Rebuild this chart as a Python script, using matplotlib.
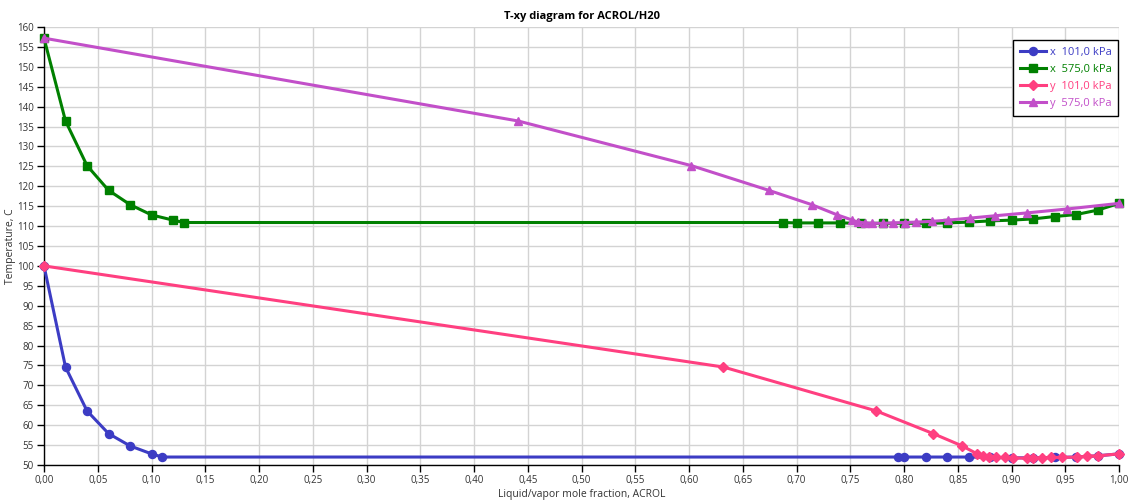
import matplotlib
matplotlib.use("Agg")
import matplotlib.pyplot as plt
from matplotlib.ticker import MultipleLocator, FuncFormatter

# liquid x, 101 kPa
x101 = [0.0, 0.02, 0.04, 0.06, 0.08, 0.10, 0.110, 0.794, 0.80, 0.82, 0.84, 0.86,
        0.88, 0.90, 0.92, 0.94, 0.96, 0.98, 1.0]
tx101 = [100.0, 74.6, 63.6, 57.9, 54.8, 52.8, 52.0, 52.0, 52.0, 52.0, 52.0, 52.0,
         51.9, 51.8, 51.8, 51.9, 52.0, 52.3, 52.8]

# liquid x, 575 kPa
x575 = [0.0, 0.02, 0.04, 0.06, 0.08, 0.10, 0.12, 0.13, 0.687, 0.70, 0.72, 0.74,
        0.76, 0.78, 0.80, 0.82, 0.84, 0.86, 0.88, 0.90, 0.92, 0.94, 0.96, 0.98, 1.0]
tx575 = [157.2, 136.4, 125.2, 119.0, 115.4, 112.8, 111.5, 110.9, 110.9, 110.8, 110.8, 110.8,
         110.7, 110.7, 110.7, 110.7, 110.8, 111.0, 111.3, 111.5, 111.8, 112.4, 112.9, 114.0, 115.7]

# vapor y, 101 kPa
y101 = [0.0, 0.632, 0.774, 0.827, 0.854, 0.868, 0.873, 0.879, 0.886, 0.894, 0.901,
        0.914, 0.920, 0.928, 0.937, 0.947, 0.961, 0.970, 0.980, 1.0]
ty101 = [100.0, 74.6, 63.6, 57.9, 54.8, 52.8, 52.2, 52.0, 51.9, 51.9, 51.8,
         51.7, 51.8, 51.8, 51.9, 51.9, 52.0, 52.2, 52.3, 52.8]

# vapor y, 575 kPa
y575 = [0.0, 0.441, 0.602, 0.674, 0.714, 0.738, 0.752, 0.757, 0.764, 0.770, 0.780,
        0.790, 0.801, 0.811, 0.826, 0.841, 0.861, 0.885, 0.914, 0.952, 1.0]
ty575 = [157.2, 136.4, 125.2, 119.0, 115.4, 112.8, 111.5, 111.0, 110.8, 110.7, 110.7,
         110.8, 110.9, 111.0, 111.2, 111.5, 112.0, 112.6, 113.3, 114.3, 115.7]

labels = ["x  101,0 kPa", "x  575,0 kPa", "y  101,0 kPa", "y  575,0 kPa"]
colors = ["#3c3cc4", "#008000", "#ff3f80", "#c24fc9"]
markers = ["o", "s", "D", "^"]

plt.rcParams['font.family'] = ['Open Sans', 'DejaVu Sans']
plt.rcParams['font.size'] = 7.5

fig = plt.figure(figsize=(11.37, 5.0), dpi=100)
ax = fig.add_axes([0.0387, 0.07, 0.9455, 0.876])

series = [(x101, tx101), (x575, tx575), (y101, ty101), (y575, ty575)]
for (xs, ts), lab, c, m in zip(series, labels, colors, markers):
    ms = 5.8 if m != "D" else 5.5
    ax.plot(xs, ts, color=c, marker=m, markersize=ms, linewidth=2.2,
            label=lab, clip_on=False, zorder=3)

ax.set_xlim(0, 1)
ax.set_ylim(50, 160)
ax.xaxis.set_major_locator(MultipleLocator(0.05))
ax.yaxis.set_major_locator(MultipleLocator(5))
ax.xaxis.set_major_formatter(FuncFormatter(lambda v, p: ("%.2f" % v).replace(".", ",")))
ax.yaxis.set_major_formatter(FuncFormatter(lambda v, p: "%d" % v))
ax.grid(True, color="#d3d3d3", linewidth=1.0)
ax.set_axisbelow(True)
for s in ["top", "right"]:
    ax.spines[s].set_visible(False)
for s in ["left", "bottom"]:
    ax.spines[s].set_color("black")
    ax.spines[s].set_linewidth(1.0)
ax.tick_params(direction="out", length=5, width=1, colors="black", labelcolor="#333333",
               pad=2.5, labelsize=7)

ax.set_title("T-xy diagram for ACROL/H20", fontsize=8, fontweight="bold", pad=6)
ax.set_xlabel("Liquid/vapor mole fraction, ACROL", color="#333333", labelpad=2)
ax.set_ylabel("Temperature, C", color="#333333")
ax.yaxis.set_label_coords(-0.026, 0.5)

leg = ax.legend(loc="upper right", bbox_to_anchor=(0.9995, 0.97), borderaxespad=0,
                fancybox=False, edgecolor="black", framealpha=1, handlelength=2.3,
                borderpad=0.6, labelspacing=0.55, handletextpad=0.4, fontsize=8)
leg.get_frame().set_linewidth(1.0)
for txt, c in zip(leg.get_texts(), colors):
    txt.set_color(c)

fig.savefig("out.png", dpi=100)
